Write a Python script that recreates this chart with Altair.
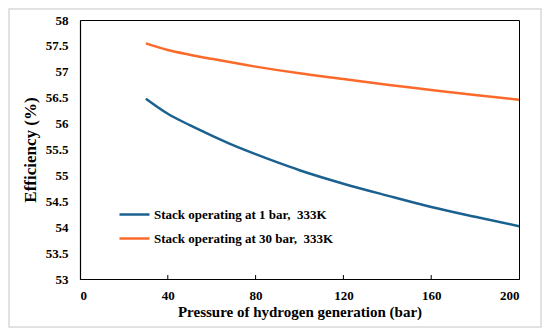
import altair as alt
import pandas as pd

# Data
series_1bar_x = [30, 40, 50, 60, 70, 80, 90, 100, 120, 140, 160, 180, 200]
series_1bar_y = [56.48, 56.19, 55.97, 55.77, 55.58, 55.41, 55.25, 55.1, 54.84, 54.61, 54.39, 54.2, 54.02]
series_30bar_x = [30, 40, 50, 60, 80, 100, 120, 140, 160, 180, 200]
series_30bar_y = [57.55, 57.42, 57.33, 57.25, 57.1, 56.97, 56.86, 56.75, 56.65, 56.55, 56.46]
labels = ["Stack operating at 1 bar,\u00a0 333K", "Stack operating at 30 bar,\u00a0 333K"]
colors = ["#1b6190", "#fb6a2a"]
x_ticks = [0, 40, 80, 120, 160, 200]
y_ticks = [53, 53.5, 54, 54.5, 55, 55.5, 56, 56.5, 57, 57.5, 58]

rows = []
for x, y in zip(series_1bar_x, series_1bar_y):
    rows.append({"p": x, "eff": y, "series": labels[0]})
for x, y in zip(series_30bar_x, series_30bar_y):
    rows.append({"p": x, "eff": y, "series": labels[1]})
df = pd.DataFrame(rows)
ticks_df = pd.DataFrame({"p": x_ticks[1:-1]})

FONT = "Liberation Serif, DejaVu Serif, serif"
W, H = 439, 259

xscale = alt.Scale(domain=[0, 200], nice=False)
yscale = alt.Scale(domain=[53, 58], nice=False, zero=False)

lines = alt.Chart(df).mark_line(strokeWidth=2.5, interpolate="monotone").encode(
    x=alt.X("p:Q", scale=xscale,
            axis=alt.Axis(values=x_ticks, title="Pressure of hydrogen generation (bar)",
                          ticks=False, grid=False, labelPadding=10, titlePadding=2,
                          labelFont=FONT, labelFontSize=13, labelFontWeight="bold",
                          titleFont=FONT, titleFontSize=15, titleFontWeight="bold")),
    y=alt.Y("eff:Q", scale=yscale,
            axis=alt.Axis(values=y_ticks, title="Efficiency (%)", ticks=False, grid=False,
                          labelPadding=12, titlePadding=6, format="~r",
                          labelFont=FONT, labelFontSize=13, labelFontWeight="bold",
                          titleFont=FONT, titleFontSize=17, titleFontWeight="bold")),
    color=alt.Color("series:N", scale=alt.Scale(domain=labels, range=colors),
                    legend=alt.Legend(orient="none", legendX=38, legendY=178, title=None,
                                      symbolType="stroke", symbolSize=900, symbolStrokeWidth=2.5,
                                      labelFontSize=13, labelFont=FONT, labelFontWeight="bold",
                                      labelColor="black",
                                      rowPadding=-1, labelOffset=3, labelLimit=400)),
)

tick_marks = alt.Chart(ticks_df).mark_rule(color="black", strokeWidth=1).encode(
    x=alt.X("p:Q", scale=xscale),
    y=alt.value(H),
    y2=alt.value(H - 4),
)

frame = alt.Chart(pd.DataFrame({"a": [0]})).mark_rect(
    fill=None, stroke="#d9d9d9", strokeWidth=1.5
).encode(
    x=alt.value(-71),
    x2=alt.value(W + 22),
    y=alt.value(-11),
    y2=alt.value(H + 48),
)

chart = alt.layer(frame, lines, tick_marks).properties(
    width=W, height=H,
    autosize=alt.AutoSizeParams(type="none"),
    padding={"left": 72, "top": 12, "right": 23, "bottom": 49},
    background="white",
).configure_view(
    stroke="black", strokeWidth=1
).configure_axis(
    domainColor="black", domainWidth=1.2,
    labelFont=FONT, labelFontSize=13, labelFontWeight="bold", labelColor="black",
    titleFont=FONT, titleFontSize=16, titleFontWeight="bold", titleColor="black",
)

chart.save("out.html", embed_options={"renderer": "svg", "actions": False})
